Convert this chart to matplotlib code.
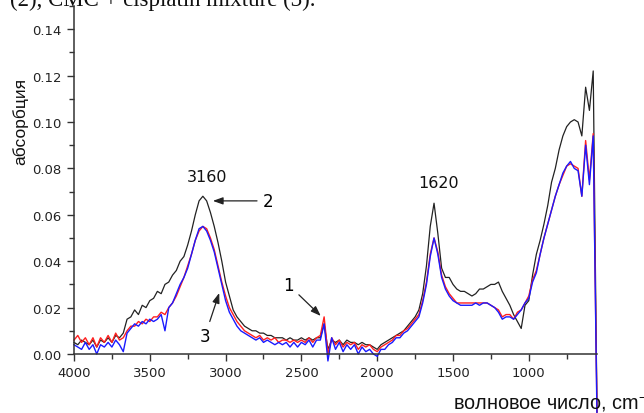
import numpy as np
import matplotlib
matplotlib.use('Agg')
from matplotlib import pyplot as plt
from matplotlib.ticker import MultipleLocator

# wavenumber grid, cm-1 (25 cm-1 step, 4000 -> 550)
wavenumber = np.arange(4000, 549, -25)

# sample 2 (black)
absorb_2 = [
    0.005, 0.004, 0.006, 0.005, 0.004, 0.006, 0.003, 0.006, 0.005, 0.007,
    0.005, 0.008, 0.007, 0.009, 0.015, 0.016, 0.019, 0.017, 0.021, 0.020,
    0.023, 0.024, 0.027, 0.026, 0.030, 0.031, 0.034, 0.036, 0.040, 0.042,
    0.047, 0.053, 0.060, 0.066, 0.068, 0.066, 0.061, 0.055, 0.048, 0.040,
    0.031, 0.025, 0.019, 0.016, 0.014, 0.012, 0.011, 0.010, 0.010, 0.009,
    0.009, 0.008, 0.008, 0.007, 0.007, 0.007, 0.006, 0.007, 0.006, 0.006,
    0.007, 0.006, 0.007, 0.006, 0.007, 0.007, 0.013, 0.002, 0.006, 0.005,
    0.006, 0.004, 0.006, 0.005, 0.005, 0.004, 0.005, 0.004, 0.004, 0.003,
    0.002, 0.004, 0.005, 0.006, 0.007, 0.008, 0.009, 0.010, 0.012, 0.014,
    0.016, 0.019, 0.026, 0.038, 0.055, 0.065, 0.052, 0.037, 0.033, 0.033,
    0.030, 0.028, 0.027, 0.027, 0.026, 0.025, 0.026, 0.028, 0.028, 0.029,
    0.030, 0.030, 0.031, 0.027, 0.024, 0.021, 0.017, 0.014, 0.011, 0.021,
    0.023, 0.034, 0.043, 0.049, 0.056, 0.064, 0.074, 0.080, 0.088, 0.094,
    0.098, 0.100, 0.101, 0.100, 0.094, 0.115, 0.105, 0.122, -0.025,
]

# sample 1 (red)
absorb_1 = [
    0.006, 0.008, 0.005, 0.007, 0.004, 0.007, 0.003, 0.007, 0.005, 0.008,
    0.005, 0.009, 0.006, 0.007, 0.010, 0.012, 0.012, 0.014, 0.013, 0.015,
    0.014, 0.016, 0.016, 0.018, 0.017, 0.020, 0.022, 0.025, 0.029, 0.033,
    0.038, 0.043, 0.049, 0.053, 0.055, 0.054, 0.050, 0.045, 0.038, 0.031,
    0.025, 0.020, 0.017, 0.014, 0.012, 0.010, 0.009, 0.008, 0.007, 0.008,
    0.006, 0.007, 0.006, 0.007, 0.005, 0.006, 0.006, 0.005, 0.006, 0.005,
    0.006, 0.005, 0.007, 0.005, 0.007, 0.008, 0.016, 0.000, 0.007, 0.004,
    0.006, 0.003, 0.005, 0.004, 0.005, 0.002, 0.004, 0.003, 0.004, 0.002,
    0.001, 0.003, 0.004, 0.005, 0.006, 0.008, 0.008, 0.010, 0.011, 0.013,
    0.015, 0.017, 0.023, 0.031, 0.043, 0.050, 0.044, 0.034, 0.029, 0.026,
    0.024, 0.022, 0.022, 0.022, 0.022, 0.022, 0.022, 0.022, 0.022, 0.022,
    0.021, 0.020, 0.019, 0.016, 0.017, 0.017, 0.015, 0.018, 0.019, 0.022,
    0.025, 0.032, 0.036, 0.043, 0.050, 0.056, 0.062, 0.068, 0.073, 0.077,
    0.081, 0.082, 0.081, 0.080, 0.068, 0.092, 0.075, 0.095, -0.025,
]

# sample 3 (blue)
absorb_3 = [
    0.004, 0.003, 0.002, 0.005, 0.002, 0.004, 0.000, 0.004, 0.003, 0.005,
    0.003, 0.006, 0.004, 0.001, 0.009, 0.011, 0.013, 0.012, 0.014, 0.013,
    0.015, 0.014, 0.015, 0.017, 0.010, 0.020, 0.022, 0.026, 0.030, 0.033,
    0.037, 0.043, 0.049, 0.054, 0.055, 0.053, 0.049, 0.044, 0.037, 0.030,
    0.023, 0.018, 0.015, 0.012, 0.010, 0.009, 0.008, 0.007, 0.006, 0.007,
    0.005, 0.006, 0.005, 0.004, 0.005, 0.004, 0.005, 0.003, 0.005, 0.003,
    0.005, 0.004, 0.006, 0.003, 0.006, 0.006, 0.013, -0.003, 0.007, 0.002,
    0.005, 0.001, 0.004, 0.002, 0.004, 0.000, 0.003, 0.001, 0.002, 0.000,
    -0.001, 0.002, 0.002, 0.004, 0.005, 0.007, 0.007, 0.009, 0.010, 0.012,
    0.014, 0.016, 0.022, 0.030, 0.042, 0.050, 0.043, 0.033, 0.028, 0.025,
    0.023, 0.022, 0.021, 0.021, 0.021, 0.021, 0.022, 0.021, 0.022, 0.022,
    0.021, 0.020, 0.018, 0.015, 0.016, 0.016, 0.015, 0.017, 0.019, 0.022,
    0.024, 0.031, 0.035, 0.043, 0.050, 0.056, 0.062, 0.068, 0.073, 0.078,
    0.081, 0.083, 0.080, 0.079, 0.068, 0.090, 0.073, 0.094, -0.028,
]

plt.rcParams['mathtext.fontset'] = 'custom'
plt.rcParams['mathtext.rm'] = 'Liberation Sans'

fig = plt.figure(figsize=(6.44, 4.14), dpi=100)
ax = fig.add_axes([74/644, 1 - 355/414, (597 - 74)/644, (355 - 7)/414])

ax.plot(wavenumber, absorb_2, color='#222222', lw=0.9, clip_on=False)
ax.plot(wavenumber, absorb_1, color='#ff2020', lw=1.0, clip_on=False)
ax.plot(wavenumber, absorb_3, color='#1a1aff', lw=1.0, clip_on=False)

ax.set_xlim(4000, 550)
ax.set_ylim(0, 0.15)
ax.xaxis.set_minor_locator(MultipleLocator(250))
ax.yaxis.set_minor_locator(MultipleLocator(0.01))
ax.set_xticks([4000, 3500, 3000, 2500, 2000, 1500, 1000])
ax.set_yticks([0.0, 0.02, 0.04, 0.06, 0.08, 0.10, 0.12, 0.14])
ax.set_yticklabels(['0.00', '0.02', '0.04', '0.06', '0.08', '0.10', '0.12', '0.14'])

for s in ['top', 'right']:
    ax.spines[s].set_visible(False)
for s in ['left', 'bottom']:
    ax.spines[s].set_linewidth(1.1)
    ax.spines[s].set_color('#333333')
ax.tick_params(which='major', length=5, width=1, color='#333333', pad=4,
               labelsize=9.5, labelcolor='#222222')
ax.tick_params(which='minor', length=3.5, width=1, color='#333333')
for lab in ax.get_xticklabels() + ax.get_yticklabels():
    lab.set_family('DejaVu Sans')

# labels
fig.text(20/644, 1 - 121/414, 'абсорбция', rotation=90, ha='center', va='center',
         family='Liberation Sans', fontsize=12.5, color='#111111')
fig.text(453/644, 1 - 409/414, 'волновое число, cm$^{-1}$', ha='left', va='baseline',
         family='Liberation Sans', fontsize=14.3, color='#111111')
fig.text(10/644, 1 - 6/414, '(2), CMC + cisplatin mixture (3).', ha='left', va='baseline',
         family='Liberation Serif', fontsize=16.5, color='#111111')

# peak labels and arrows
ax.text(3123, 0.0763, '3160', ha='center', va='center', fontsize=11.5, family='DejaVu Sans', color='#111111')
ax.text(1594, 0.0741, '1620', ha='center', va='center', fontsize=11.5, family='DejaVu Sans', color='#111111')
arrow = dict(arrowstyle='-|>,head_length=0.5,head_width=0.18', color='#222222', lw=0.9,
             shrinkA=2, shrinkB=0)
ax.annotate('2', xy=(3084, 0.066), xytext=(2721, 0.066), ha='center', va='center',
            fontsize=12, family='DejaVu Sans', arrowprops=arrow)
ax.annotate('1', xy=(2372, 0.0164), xytext=(2583, 0.0297), ha='center', va='center',
            fontsize=12, family='DejaVu Sans', arrowprops=arrow)
ax.annotate('3', xy=(3042, 0.0263), xytext=(3136, 0.0078), ha='center', va='center',
            fontsize=12, family='DejaVu Sans', arrowprops=arrow)

fig.savefig('out.png', dpi=100)
